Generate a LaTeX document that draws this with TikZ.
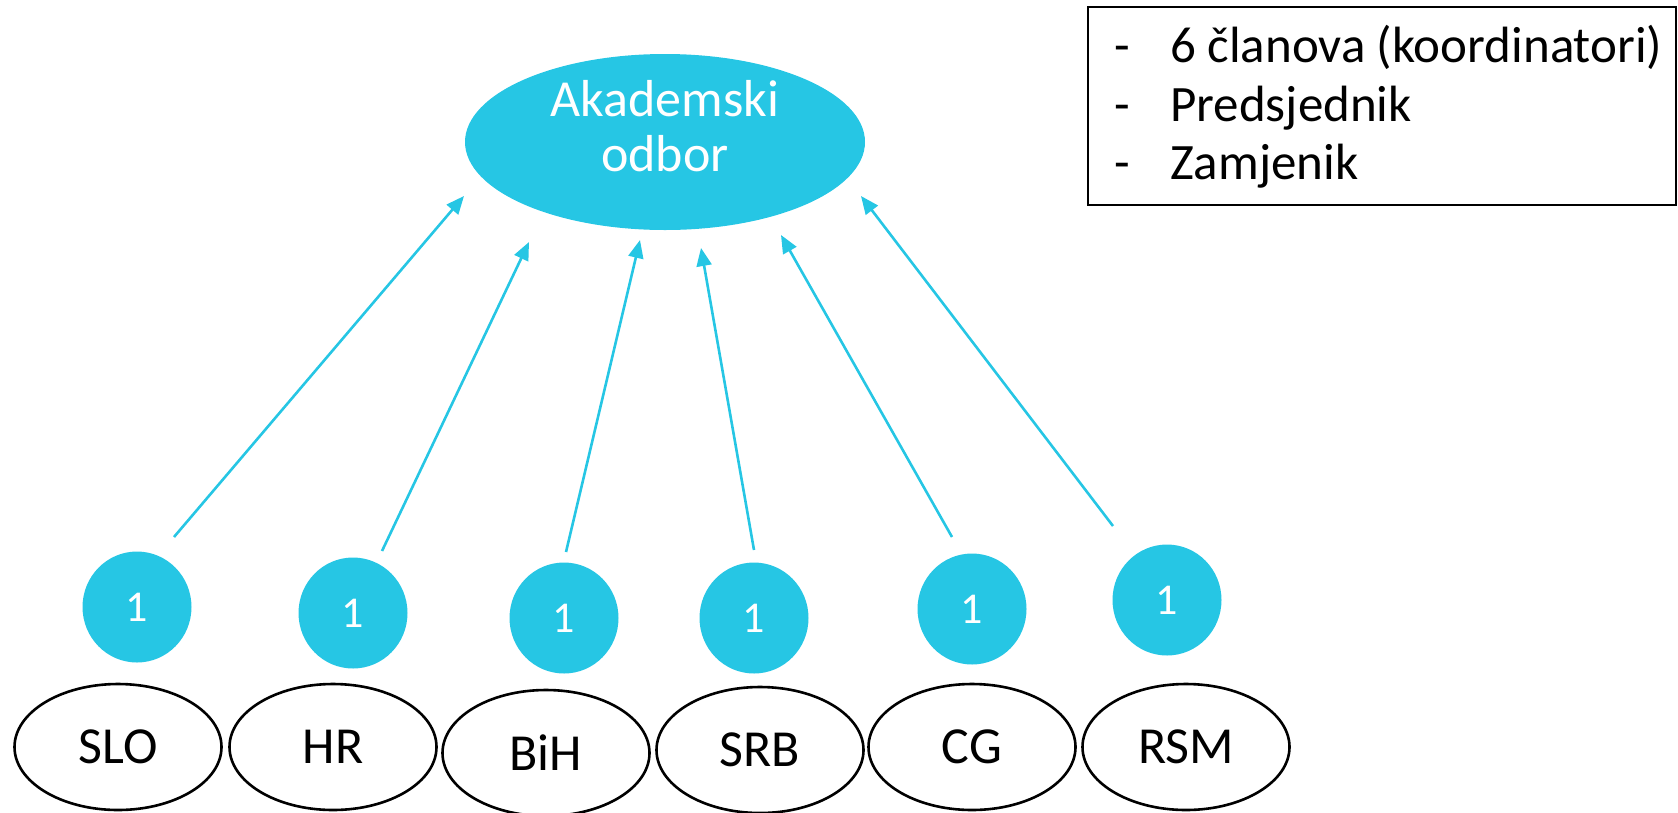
\documentclass[tikz,border=0pt]{standalone}
\usepackage{fontspec}
\setmainfont{Carlito}
\usetikzlibrary{shapes.geometric,arrows.meta}
\definecolor{cyanb}{RGB}{38,198,228}
\tikzset{
  bigell/.style={ellipse,fill=cyanb,draw=none,minimum width=400pt,minimum height=176pt,inner sep=0pt},
  bigtxt/.style={anchor=base,text=white,font=\fontsize{52}{55}\selectfont,inner sep=0pt},
  numdot/.style={ellipse,fill=cyanb,draw=none,minimum width=109pt,minimum height=111pt,inner sep=0pt,text=white,font=\fontsize{44}{46}\selectfont},
  country/.style={ellipse,draw=black,line width=2.6pt,fill=white,minimum width=207pt,minimum height=126pt,inner sep=0pt,font=\fontsize{52}{54}\selectfont},
  conn/.style={draw=cyanb,line width=2.6pt,-{Triangle[length=18pt,width=15pt]}},
  infobox/.style={draw=black,line width=2pt,inner sep=0pt},
  boxtxt/.style={anchor=base west,font=\fontsize{51}{55}\selectfont,inner sep=0pt}
}
\begin{document}
\begin{tikzpicture}[x=1pt,y=-1pt]
\useasboundingbox (0,0) rectangle (1678,812);
\node[bigell] (ak) at (665,142) {};
\node[bigtxt] (ak1) at (665,116) {Akademski};
\node[bigtxt] (ak2) at (665,171) {odbor};

\draw[infobox] (1088,7) rectangle (1676,205);
\node[boxtxt] (d1) at (1114,62) {-};
\node[boxtxt] (t1) at (1170,62) {6 članova (koordinatori)};
\node[boxtxt] (d2) at (1114,121) {-};
\node[boxtxt] (t2) at (1170,121) {Predsjednik};
\node[boxtxt] (d3) at (1114,179) {-};
\node[boxtxt] (t3) at (1170,179) {Zamjenik};

\node[numdot] (n1) at (137,607) {1};
\node[numdot] (n2) at (353,613) {1};
\node[numdot] (n3) at (564,618) {1};
\node[numdot] (n4) at (754,618) {1};
\node[numdot] (n5) at (972,609) {1};
\node[numdot] (n6) at (1167,600) {1};

\node[country] (c1) at (118,747) {SLO};
\node[country] (c2) at (333,747) {HR};
\node[country] (c3) at (546,753) {BiH};
\node[country] (c4) at (760,750) {SRB};
\node[country] (c5) at (972,747) {CG};
\node[country] (c6) at (1186,747) {RSM};

\coordinate (s1) at (174,537); \coordinate (e1) at (464,196);
\coordinate (s2) at (382,551); \coordinate (e2) at (529,242);
\coordinate (s3) at (566,552); \coordinate (e3) at (640,240);
\coordinate (s4) at (754,550); \coordinate (e4) at (701,248);
\coordinate (s5) at (952,537); \coordinate (e5) at (781,235);
\coordinate (s6) at (1113,526); \coordinate (e6) at (861,196);
\foreach \i in {1,...,6} { \draw[conn] (s\i) -- (e\i); }
\end{tikzpicture}
\end{document}
